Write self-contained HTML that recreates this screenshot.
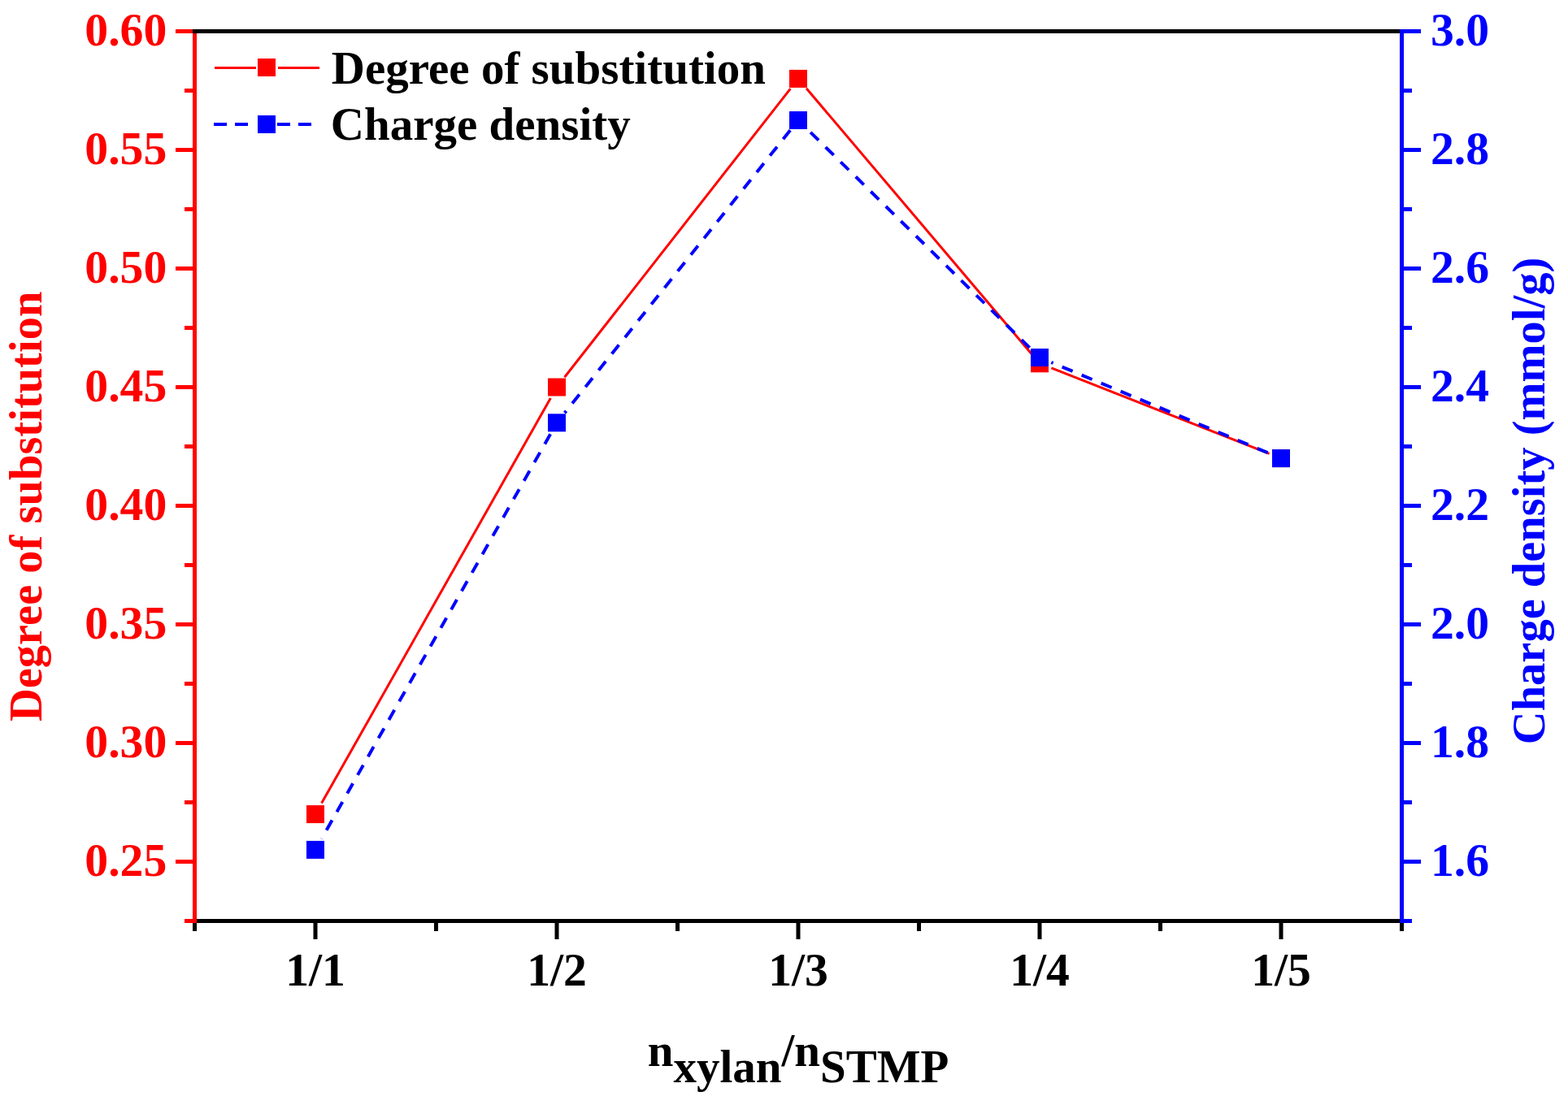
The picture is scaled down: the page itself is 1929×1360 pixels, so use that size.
<!DOCTYPE html>
<html><head><meta charset="utf-8"><title>Degree of substitution and charge density</title><style>
html,body{margin:0;padding:0;background:#fff;overflow:hidden;}
svg{display:block;}
text{font-family:"Liberation Serif","Times New Roman",serif;font-weight:bold;}
</style></head><body>
<svg width="1929" height="1360" viewBox="0 0 1929 1360">
<rect width="1929" height="1360" fill="#fff"/>
<line x1="395.63" y1="988.61" x2="677.37" y2="489.99" stroke="#f00" stroke-width="3"/>
<line x1="694.55" y1="464.29" x2="972.45" y2="109.11" stroke="#f00" stroke-width="3"/>
<line x1="992.02" y1="108.72" x2="1268.98" y2="435.48" stroke="#f00" stroke-width="3"/>
<line x1="1293.42" y1="452.97" x2="1561.58" y2="558.43" stroke="#f00" stroke-width="3"/>
<g fill="#f00"><rect x="377.0" y="991.1" width="22" height="22"/><rect x="674.0" y="465.5" width="22" height="22"/><rect x="971.0" y="85.9" width="22" height="22"/><rect x="1268.0" y="436.3" width="22" height="22"/><rect x="1565.0" y="553.1" width="22" height="22"/></g>
<line x1="395.63" y1="1032.41" x2="677.37" y2="533.79" stroke="#00f" stroke-width="4" stroke-dasharray="14 12" stroke-dashoffset="13.80"/>
<line x1="694.67" y1="508.18" x2="972.33" y2="160.12" stroke="#00f" stroke-width="4" stroke-dasharray="14 12" stroke-dashoffset="11.00"/>
<line x1="993.05" y1="158.87" x2="1267.95" y2="429.13" stroke="#00f" stroke-width="4" stroke-dasharray="14 12" stroke-dashoffset="20.30"/>
<line x1="1293.30" y1="445.98" x2="1561.70" y2="558.12" stroke="#00f" stroke-width="4" stroke-dasharray="14 12" stroke-dashoffset="11.50"/>
<g fill="#00f"><rect x="377.0" y="1034.9" width="22" height="22"/><rect x="674.0" y="509.3" width="22" height="22"/><rect x="971.0" y="137.0" width="22" height="22"/><rect x="1268.0" y="429.0" width="22" height="22"/><rect x="1565.0" y="553.1" width="22" height="22"/></g>
<line x1="239.5" y1="1133.5" x2="1724.5" y2="1133.5" stroke="#000" stroke-width="5"/>
<path d="M388.0,1133.5 V1156.0 M685.0,1133.5 V1156.0 M982.0,1133.5 V1156.0 M1279.0,1133.5 V1156.0 M1576.0,1133.5 V1156.0 M239.5,1133.5 V1146.0 M536.5,1133.5 V1146.0 M833.5,1133.5 V1146.0 M1130.5,1133.5 V1146.0 M1427.5,1133.5 V1146.0 M1724.5,1133.5 V1146.0" stroke="#000" stroke-width="5" fill="none"/>
<line x1="239.5" y1="36.0" x2="239.5" y2="1136.0" stroke="#f00" stroke-width="5"/>
<path d="M239.5,38.5 H216.0 M239.5,111.5 H227.0 M239.5,184.5 H216.0 M239.5,257.5 H227.0 M239.5,330.5 H216.0 M239.5,403.5 H227.0 M239.5,476.5 H216.0 M239.5,549.5 H227.0 M239.5,622.5 H216.0 M239.5,695.5 H227.0 M239.5,768.5 H216.0 M239.5,841.5 H227.0 M239.5,914.5 H216.0 M239.5,987.5 H227.0 M239.5,1060.5 H216.0 M239.5,1133.5 H227.0" stroke="#f00" stroke-width="5" fill="none"/>
<line x1="237.0" y1="38.5" x2="1724.5" y2="38.5" stroke="#000" stroke-width="5"/>
<line x1="1724.5" y1="36.0" x2="1724.5" y2="1136.0" stroke="#00f" stroke-width="5"/>
<path d="M1724.5,38.5 H1748.0 M1724.5,111.5 H1737.0 M1724.5,184.5 H1748.0 M1724.5,257.5 H1737.0 M1724.5,330.5 H1748.0 M1724.5,403.5 H1737.0 M1724.5,476.5 H1748.0 M1724.5,549.5 H1737.0 M1724.5,622.5 H1748.0 M1724.5,695.5 H1737.0 M1724.5,768.5 H1748.0 M1724.5,841.5 H1737.0 M1724.5,914.5 H1748.0 M1724.5,987.5 H1737.0 M1724.5,1060.5 H1748.0 M1724.5,1133.5 H1737.0" stroke="#00f" stroke-width="5" fill="none"/>
<g fill="#f00" font-size="57.7" text-anchor="end">
<text x="205.3" y="55.5">0.60</text>
<text x="205.3" y="201.5">0.55</text>
<text x="205.3" y="347.5">0.50</text>
<text x="205.3" y="493.5">0.45</text>
<text x="205.3" y="639.5">0.40</text>
<text x="205.3" y="785.5">0.35</text>
<text x="205.3" y="931.5">0.30</text>
<text x="205.3" y="1077.5">0.25</text>
</g>
<g fill="#00f" font-size="57.7">
<text x="1760" y="55.5">3.0</text>
<text x="1760" y="201.5">2.8</text>
<text x="1760" y="347.5">2.6</text>
<text x="1760" y="493.5">2.4</text>
<text x="1760" y="639.5">2.2</text>
<text x="1760" y="785.5">2.0</text>
<text x="1760" y="931.5">1.8</text>
<text x="1760" y="1077.5">1.6</text>
</g>
<g fill="#000" font-size="57.7" text-anchor="middle">
<text x="388.0" y="1213">1/1</text>
<text x="685.0" y="1213">1/2</text>
<text x="982.0" y="1213">1/3</text>
<text x="1279.0" y="1213">1/4</text>
<text x="1576.0" y="1213">1/5</text>
</g>
<text fill="#f00" font-size="56.5" text-anchor="middle" transform="translate(51,623.4) rotate(-90)">Degree of substitution</text>
<text fill="#00f" font-size="56.5" text-anchor="middle" transform="translate(1900,616.4) rotate(-90)">Charge density (mmol/g)</text>
<text fill="#000" font-size="57.0" x="796.7" y="1331.5"><tspan dy="-20">n</tspan><tspan dy="20">xylan</tspan><tspan dy="-20">/n</tspan><tspan dy="20">STMP</tspan></text>
<path d="M264,83.5 H315 M342,83.5 H393" stroke="#f00" stroke-width="3" fill="none"/>
<rect x="317" y="72" width="22" height="22" fill="#f00"/>
<path d="M263,153 H315 M341,153 H393" stroke="#00f" stroke-width="4" stroke-dasharray="16 10" fill="none"/>
<rect x="317" y="142" width="22" height="22" fill="#00f"/>
<text fill="#000" font-size="57.0" x="407.8" y="102.6">Degree of substitution</text>
<text fill="#000" font-size="57.0" x="406.8" y="172">Charge density</text>
</svg></body></html>
